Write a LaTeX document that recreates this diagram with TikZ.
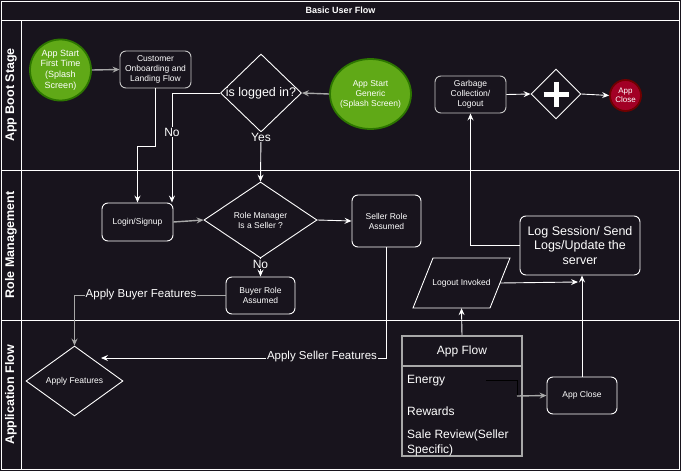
\documentclass[tikz,border=0pt]{standalone}
\usepackage{fontspec}
\setmainfont{Liberation Sans}
\usetikzlibrary{arrows.meta,shapes.geometric,calc}
\definecolor{bg}{HTML}{18141D}
\definecolor{lgray}{HTML}{C8C8C8}
\definecolor{agray}{HTML}{A8A8A8}
\definecolor{gfill}{HTML}{60A917}
\definecolor{gline}{HTML}{2D7600}
\definecolor{rfill}{HTML}{A20025}
\definecolor{rline}{HTML}{6F0000}
\tikzset{
  fs/.style={font=\fontsize{#1pt}{1.17\dimexpr#1pt\relax}\selectfont},
  box/.style={draw=white, rounded corners=6pt, line width=0.9pt, fill=bg, text=white,
    align=center, inner sep=0pt, fs=8.5},
  gbox/.style={box, draw=lgray},
  dia/.style={diamond, draw=white, line width=0.9pt, fill=bg, inner sep=0pt, text=white},
  startc/.style={ellipse, draw=gline, line width=1.8pt, fill=gfill, inner sep=0pt, text=white},
  endc/.style={circle, draw=rline, line width=1.8pt, fill=rfill, inner sep=0pt, text=white},
  conn/.style={draw=white, line width=0.9pt, -{Stealth[length=7pt,width=6pt,inset=2.5pt]}},
  gconn/.style={draw=agray, line width=1.4pt, -{Stealth[length=7pt,width=6pt,inset=2.5pt]}},
  lbl/.style={fill=bg, text=white, inner sep=1pt},
  lane/.style={text=white, rotate=90, font=\bfseries\fontsize{12.5pt}{14pt}\selectfont},
}
\begin{document}
\begin{tikzpicture}[x=1pt,y=-1pt]
\useasboundingbox (0,0) rectangle (681,471);
\fill[bg] (0,0) rectangle (681,471);
% pool frame
\draw[white, line width=0.9pt] (1,1) rectangle (679,469);
\draw[white, line width=0.9pt] (1,20) -- (679,20);
\draw[white, line width=0.9pt] (21,20) -- (21,469);
\draw[white, line width=0.9pt] (1,170) -- (679,170);
\draw[white, line width=0.9pt] (1,320) -- (679,320);
\node[text=white, font=\bfseries\fontsize{9pt}{10pt}\selectfont] (title) at (340.5,10) {Basic User Flow};
\node[lane] (l1) at (11,95) {App Boot Stage};
\node[lane] (l2) at (11,245) {Role Management};
\node[lane] (l3) at (11,395) {Application Flow};

% App Boot Stage
\node[startc, minimum width=61, minimum height=61,
  label={[text=white, align=center, fs=9]center:App Start\\First Time\\(Splash\\Screen)}] (c1) at (60.5,70) {};
\node[gbox, minimum width=71, minimum height=37] (ob) at (155.5,69.5) {Customer\\Onboarding and\\Landing Flow};
\node[dia, minimum width=81, minimum height=78,
  label={[text=white, fs=12.5]center:is logged in?}] (il) at (261,93) {};
\node[startc, minimum width=81, minimum height=70,
  label={[text=white, align=center, fs=8.5]center:App Start\\Generic\\(Splash Screen)}] (ge) at (370.5,94) {};
\node[gbox, minimum width=71, minimum height=37] (gc) at (470.5,94.5) {Garbage\\Collection/\\Logout};
\node[dia, minimum width=50, minimum height=50] (pl) at (556,94) {};
\draw[white, line width=5pt] ($(pl.center)+(-12.5,0)$) -- ($(pl.center)+(12.5,0)$);
\draw[white, line width=5pt] ($(pl.center)+(0,-12.5)$) -- ($(pl.center)+(0,12.5)$);
\node[endc, minimum size=31,
  label={[text=white, align=center, fs=8]center:App\\Close}] (ec) at (625.5,95.5) {};

% Role Management
\node[box, minimum width=71, minimum height=38] (lg) at (137.5,222) {Login/Signup};
\node[dia, minimum width=113, minimum height=76,
  label={[text=white, align=center, fs=8.5]center:Role Manager\\Is a Seller ?}] (rm) at (260.5,220) {};
\node[box, minimum width=69, minimum height=52] (sr) at (386.5,221) {Seller Role\\Assumed};
\node[box, minimum width=69, minimum height=37] (br) at (260.5,295.5) {Buyer Role\\Assumed};
\node[box, minimum width=120, minimum height=59, fs=12.5] (ls) at (580,245.5) {Log Session/ Send\\Logs/Update the\\server};
\node[minimum width=77, minimum height=50, inner sep=0pt, text=white, fs=8.5] (lo) at (461.5,283) {Logout Invoked};
\draw[white, line width=0.9pt] (413,308) -- (433,258) -- (510,258) -- (490,308) -- cycle;

% Application Flow
\node[dia, minimum width=97, minimum height=70,
  label={[text=white, fs=8.5]center:Apply Features}] (af) at (74.5,381) {};
\node[draw=agray, line width=1.6pt, fill=bg, minimum width=120, minimum height=120, inner sep=0pt] (afl) at (462,396) {};
\draw[agray, line width=1.6pt] (402,366) -- (522,366);
\node[text=white, fs=12] (aflh) at (462,351) {App Flow};
\node[text=white, fs=12, anchor=west, inner sep=0pt] (en) at (407,381) {Energy};
\node[text=white, fs=12, anchor=west, inner sep=0pt] (rw) at (407,411) {Rewards};
\node[text=white, anchor=north west, inner sep=0pt, align=left,
  font=\fontsize{12pt}{14.5pt}\selectfont] (sv) at (407,430) {Sale Review(Seller\\Specific)};
\node[box, minimum width=70, minimum height=37] (ac) at (582,395.5) {App Close};

% connectors
\draw[gconn] (c1.east) -- (ob.west);
\draw[conn] (ob.south) -- (155.5,146) -| (lg.north);
\draw[conn] (il.west) -| ([xshift=-1.5pt]lg.north east);
\node[lbl, fs=12] (no1) at (172,132) {No};
\draw[conn] (il.south) -- (rm.north);
\node[lbl, fs=12] (yes) at (261,137) {Yes};
\draw[gconn] (ge.west) -- (il.east);
\draw[conn] (gc.east) -- (pl.west);
\draw[conn] (pl.east) -- (ec.west);
\draw[gconn] (lg.east) -- (rm.west);
\draw[conn] (rm.east) -- (sr.west);
\draw[conn] (rm.south) -- (br.north);
\node[lbl, fs=12] (no2) at (260.5,264) {No};
\draw[gconn] (br.west) -| (af.north);
\node[lbl, fs=11.5] (abf) at (141,295) {Apply Buyer Features};
\coordinate (afin) at (101,358);
\draw[conn] (sr.south) |- (afin);
\node[lbl, fs=11.5] (asf) at (322,357) {Apply Seller Features};
\draw[conn] (afl.north) -- (lo.south);
\coordinate (lsin) at (578,282);
\draw[conn] (lo.east) -- (lsin);
\draw[conn] (ac.north) -- (ac.north |- ls.south);
\draw[conn] (ls.west) -| (gc.south);
\coordinate (e1) at (486,380);
\coordinate (e2) at (517,396);
\draw[black, line width=0.9pt] (e1) -| (e2);
\draw[gconn] (e2) -- (ac.west);
\end{tikzpicture}
\end{document}
